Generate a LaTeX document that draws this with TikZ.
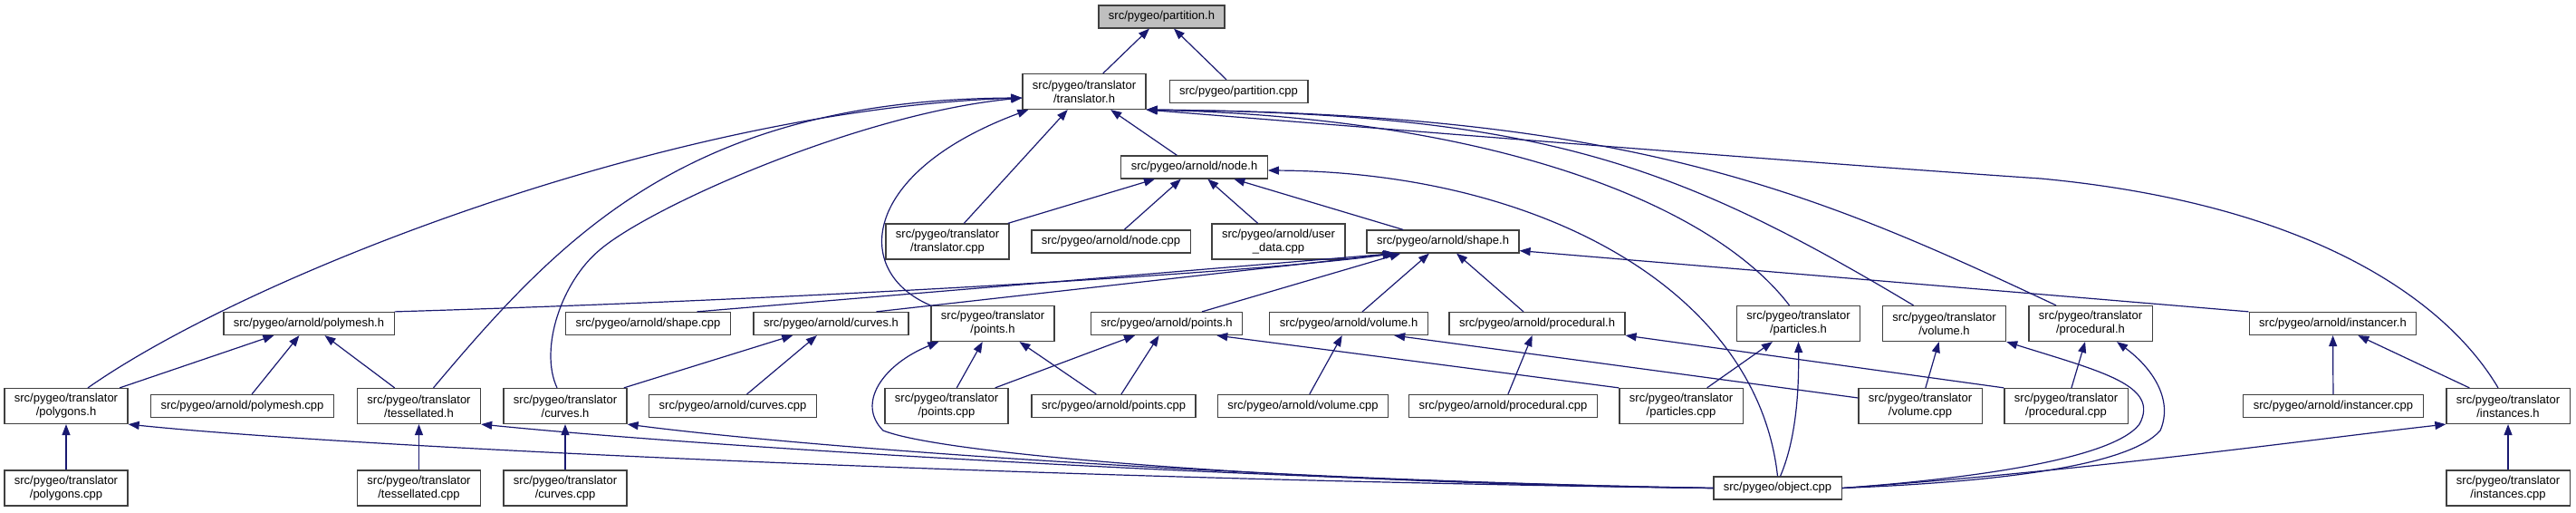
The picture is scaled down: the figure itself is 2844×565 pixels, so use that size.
\documentclass[tikz,border=0pt]{standalone}
\usepackage{fontspec}
\setmainfont{Liberation Sans}
\usepackage{xcolor}
\usepackage{tikz}
\usetikzlibrary{arrows.meta,calc}

\definecolor{edgeblue}{HTML}{191970}
\definecolor{boxline}{HTML}{404040}
\definecolor{boxgray}{HTML}{BFBFBF}

\begin{document}
\begin{tikzpicture}[
    x=1pt, y=-1pt,
    box/.style={draw=boxline, line width=1.2pt, minimum height=25pt, inner xsep=11pt, inner ysep=2pt, align=center, font=\fontsize{13}{15}\selectfont},
    tallbox/.style={box, minimum height=39pt},
    arrow/.style={-{Triangle[length=12pt,width=9pt]}, draw=edgeblue, line width=1.2pt},
]
\useasboundingbox (0,0) rectangle (2844,565);

% ---------- top rows ----------
\node[box, fill=boxgray] (partH) at (1282.5,18.5) {src/pygeo/partition.h};
\node[tallbox] (trH) at (1197,101) {src/pygeo/translator\\/translator.h};
\node[box] (partCpp) at (1367.5,101) {src/pygeo/partition.cpp};
\node[box] (nodeH) at (1318.5,184.5) {src/pygeo/arnold/node.h};
\node[tallbox] (trCpp) at (1046,266.5) {src/pygeo/translator\\/translator.cpp};
\node[box] (nodeCpp) at (1226.5,266.5) {src/pygeo/arnold/node.cpp};
\node[tallbox] (userCpp) at (1411.5,266.5) {src/pygeo/arnold/user\\\_data.cpp};
\node[box] (shapeH) at (1593,266.5) {src/pygeo/arnold/shape.h};

% ---------- headers row ----------
\node[box] (polyH) at (341,357) {src/pygeo/arnold/polymesh.h};
\node[box] (shapeCpp) at (715.5,357) {src/pygeo/arnold/shape.cpp};
\node[box] (acurH) at (917.5,357) {src/pygeo/arnold/curves.h};
\node[tallbox] (tpntH) at (1096,357) {src/pygeo/translator\\/points.h};
\node[box] (apntH) at (1288,357) {src/pygeo/arnold/points.h};
\node[box] (avolH) at (1489,357) {src/pygeo/arnold/volume.h};
\node[box] (aprocH) at (1697,357) {src/pygeo/arnold/procedural.h};
\node[tallbox] (tpartH) at (1985.5,357) {src/pygeo/translator\\/particles.h};
\node[tallbox] (tvolH) at (2146.5,357) {src/pygeo/translator\\/volume.h};
\node[tallbox] (tprocH) at (2308,357) {src/pygeo/translator\\/procedural.h};
\node[box] (instrH) at (2575.5,357) {src/pygeo/arnold/instancer.h};

% ---------- sources row ----------
\node[tallbox] (tpolyH) at (73,448) {src/pygeo/translator\\/polygons.h};
\node[box] (polyCpp) at (267.5,448) {src/pygeo/arnold/polymesh.cpp};
\node[tallbox] (tessH) at (462.5,448) {src/pygeo/translator\\/tessellated.h};
\node[tallbox] (tcurH) at (624,448) {src/pygeo/translator\\/curves.h};
\node[box] (acurCpp) at (809,448) {src/pygeo/arnold/curves.cpp};
\node[tallbox] (tpntCpp) at (1045,448) {src/pygeo/translator\\/points.cpp};
\node[box] (apntCpp) at (1229.5,448) {src/pygeo/arnold/points.cpp};
\node[box] (avolCpp) at (1438.5,448) {src/pygeo/arnold/volume.cpp};
\node[box] (aprocCpp) at (1659.5,448) {src/pygeo/arnold/procedural.cpp};
\node[tallbox] (tpartCpp) at (1856,448) {src/pygeo/translator\\/particles.cpp};
\node[tallbox] (tvolCpp) at (2120,448) {src/pygeo/translator\\/volume.cpp};
\node[tallbox] (tprocCpp) at (2281,448) {src/pygeo/translator\\/procedural.cpp};
\node[box] (instrCpp) at (2576,448) {src/pygeo/arnold/instancer.cpp};
\node[tallbox] (instsH) at (2769,448) {src/pygeo/translator\\/instances.h};

% ---------- bottom row ----------
\node[tallbox] (tpolyCpp) at (73,538.5) {src/pygeo/translator\\/polygons.cpp};
\node[tallbox] (tessCpp) at (462.5,538.5) {src/pygeo/translator\\/tessellated.cpp};
\node[tallbox] (tcurCpp) at (624,538.5) {src/pygeo/translator\\/curves.cpp};
\node[box] (objCpp) at (1962.5,538.5) {src/pygeo/object.cpp};
\node[tallbox] (instsCpp) at (2769,538.5) {src/pygeo/translator\\/instances.cpp};

% ---------- partition.h / translator.h ----------
\draw[arrow] (trH) -- (partH);
\draw[arrow] (partCpp) -- (partH);
\draw[arrow] (trCpp) -- (trH);
\draw[arrow] (nodeH) -- (trH);
\draw[arrow] ($(tpolyH.north)+(24,0)$) .. controls (280,300) and (750,120) .. ($(trH.west)+(0,7)$);
\draw[arrow] ($(tessH.north)+(16,0)$) .. controls (620,260) and (760,110) .. ($(trH.west)+(0,7)$);
\draw[arrow] ($(tcurH.north)+(-9,0)$) .. controls (595,385) and (620,310) .. (663,275)
    .. controls (720,227) and (950,125) .. ($(trH.west)+(0,7)$);
\draw[arrow] (tpntH.north west) .. controls (940,300) and (950,190) .. ($(trH.south west)+(7,0)$);
\draw[arrow] ($(tpartH.north)+(-10,0)$) .. controls (1890,225) and (1650,130) .. (trH.south east);
\draw[arrow] ($(tvolH.north)+(-34,0)$) .. controls (1850,180) and (1700,125) .. (trH.south east);
\draw[arrow] ($(tprocH.north)+(-38,0)$) .. controls (2000,210) and (1800,125) .. (trH.south east);
\draw[arrow] ($(instsH.north)+(-11,0)$) .. controls (2700,330) and (2550,225) .. (2253,197)
    .. controls (2000,180) and (1500,140) .. (trH.south east);

% ---------- node.h ----------
\draw[arrow] (trCpp) -- (nodeH);
\draw[arrow] (nodeCpp) -- (nodeH);
\draw[arrow] (userCpp) -- (nodeH);
\draw[arrow] (shapeH) -- (nodeH);
\draw[arrow] (objCpp.north) .. controls (1940,320) and (1700,190) .. ($(nodeH.east)+(0,3.5)$);

% ---------- shape.h ----------
\draw[arrow] (polyH.north east) .. controls (900,330) and (1400,300) .. ($(shapeH.south west)+(30,0)$);
\draw[arrow] ($(shapeCpp.north)+(54,0)$) -- ($(shapeH.south west)+(31,0)$);
\draw[arrow] ($(acurH.north)+(50,0)$) -- ($(shapeH.south west)+(33,0)$);
\draw[arrow] ($(apntH.north)+(39,0)$) -- ($(shapeH.south west)+(38,0)$);
\draw[arrow] (avolH) -- (shapeH);
\draw[arrow] (aprocH) -- (shapeH);
\draw[arrow] (instrH.north west) -- ($(shapeH.south east)+(0,-3)$);

% ---------- polymesh.h / curves.h ----------
\draw[arrow] (tpolyH) -- (polyH);
\draw[arrow] (polyCpp) -- (polyH);
\draw[arrow] (tessH) -- (polyH);
\draw[arrow] (tcurH) -- (acurH);
\draw[arrow] (acurCpp) -- (acurH);

% ---------- points.h ----------
\draw[arrow] (tpntCpp) -- (tpntH);
\draw[arrow] (apntCpp) -- (tpntH);
\draw[arrow] (tpntCpp) -- (apntH);
\draw[arrow] (apntCpp) -- (apntH);
\draw[arrow] (tpartCpp.north west) -- ($(apntH.south east)+(-29,0)$);
\draw[arrow] (objCpp.west) .. controls (1500,535) and (1050,505) .. (975,475)
    .. controls (945,445) and (975,402) .. ($(tpntH.south west)+(9,0)$);

% ---------- volume.h / procedural.h ----------
\draw[arrow] (avolCpp) -- (avolH);
\draw[arrow] ($(tvolCpp.west)+(0,-9)$) -- ($(avolH.south west)+(138,0)$);
\draw[arrow] (aprocCpp) -- (aprocH);
\draw[arrow] (tprocCpp.north west) -- (aprocH.south east);

% ---------- translator headers ----------
\draw[arrow] (tpartCpp) -- (tpartH);
\draw[arrow] ($(objCpp.north)+(3,0)$) .. controls (1985,480) and (1986,420) .. (tpartH.south);
\draw[arrow] (tvolCpp) -- (tvolH);
\draw[arrow] (objCpp.east) .. controls (2150,530) and (2330,510) .. (2362,468)
    .. controls (2385,425) and (2320,410) .. (tvolH.south east);
\draw[arrow] (tprocCpp) -- (tprocH);
\draw[arrow] (objCpp.east) .. controls (2200,532) and (2350,515) .. (2385,475)
    .. controls (2400,440) and (2375,405) .. ($(tprocH.south)+(29,0)$);

% ---------- instancer.h / instances.h ----------
\draw[arrow] (instrCpp) -- (instrH);
\draw[arrow] (instsH) -- (instrH);
\draw[arrow] (instsCpp) -- (instsH);
\draw[arrow] (objCpp.east) .. controls (2300,520) and (2550,485) .. (instsH.south west);

% ---------- bottom left ----------
\draw[arrow] (tpolyCpp) -- (tpolyH);
\draw[arrow] (objCpp.west) .. controls (1200,530) and (400,495) .. (tpolyH.south east);
\draw[arrow] (tessCpp) -- (tessH);
\draw[arrow] (objCpp.west) .. controls (1400,530) and (800,495) .. (tessH.south east);
\draw[arrow] (tcurCpp) -- (tcurH);
\draw[arrow] (objCpp.west) .. controls (1400,530) and (900,495) .. (tcurH.south east);

\end{tikzpicture}
\end{document}
